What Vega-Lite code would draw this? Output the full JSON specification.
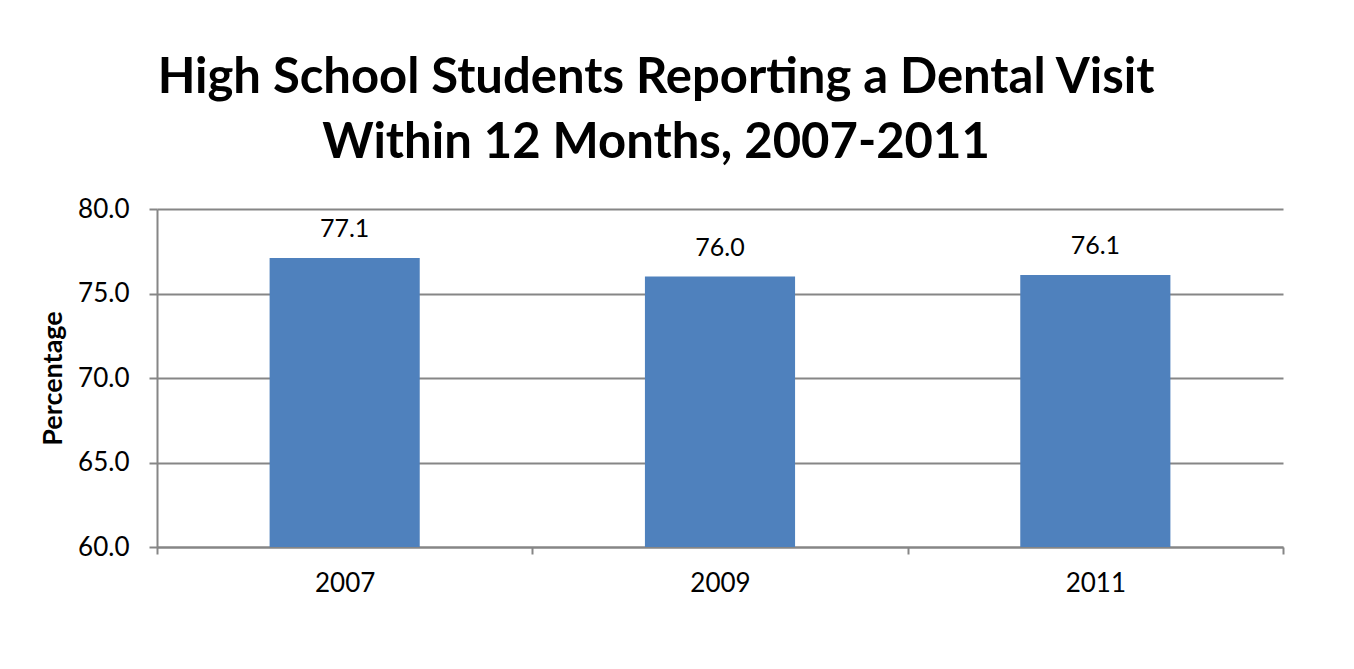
{
  "$schema": "https://vega.github.io/schema/vega-lite/v6.json",
  "width": 1126,
  "height": 338,
  "autosize": "none",
  "padding": {"left": 157, "top": 209, "right": 71, "bottom": 122},
  "background": "#ffffff",
  "title": {
    "text": ["High School Students Reporting a Dental Visit", "Within 12 Months, 2007-2011"],
    "font": "Lato",
    "fontSize": 49,
    "fontWeight": "bold",
    "color": "#000000",
    "anchor": "middle",
    "dx": -64,
    "offset": 28,
    "lineHeight": 65
  },
  "data": {
    "values": [
      {"year": "2007", "pct": 77.1},
      {"year": "2009", "pct": 76.0},
      {"year": "2011", "pct": 76.1}
    ]
  },
  "config": {
    "view": {"stroke": null},
    "font": "Lato"
  },
  "encoding": {
    "x": {
      "field": "year",
      "type": "nominal",
      "scale": {"paddingInner": 0, "paddingOuter": 0},
      "axis": {
        "title": null,
        "labelAngle": 0,
        "labelFont": "Lato",
        "labelFontSize": 26,
        "labelColor": "#000000",
        "labelPadding": 16,
        "tickBand": "extent",
        "tickSize": 7,
        "tickColor": "#868686",
        "tickWidth": 2,
        "domainColor": "#868686",
        "domainWidth": 2
      }
    },
    "y": {
      "field": "pct",
      "type": "quantitative",
      "scale": {"domain": [60, 80], "zero": false},
      "axis": {
        "title": "Percentage",
        "titleFont": "Lato",
        "titleFontSize": 27,
        "titleFontWeight": "bold",
        "titleColor": "#000000",
        "titlePadding": 10,
        "values": [60, 65, 70, 75, 80],
        "format": ".1f",
        "labelFont": "Lato",
        "labelFontSize": 26,
        "labelColor": "#000000",
        "labelPadding": 20,
        "tickSize": 8,
        "tickColor": "#868686",
        "tickWidth": 2,
        "domainColor": "#868686",
        "domainWidth": 2,
        "gridColor": "#868686",
        "gridWidth": 2
      }
    }
  },
  "layer": [
    {
      "mark": {"type": "bar", "color": "#4f81bd", "width": {"band": 0.4}},
      "encoding": {"y2": {"datum": 60}}
    },
    {
      "mark": {"type": "text", "baseline": "alphabetic", "dy": -21, "fontSize": 25, "font": "Lato", "color": "#000000"},
      "encoding": {
        "text": {"field": "pct", "type": "quantitative", "format": ".1f"}
      }
    }
  ]
}
